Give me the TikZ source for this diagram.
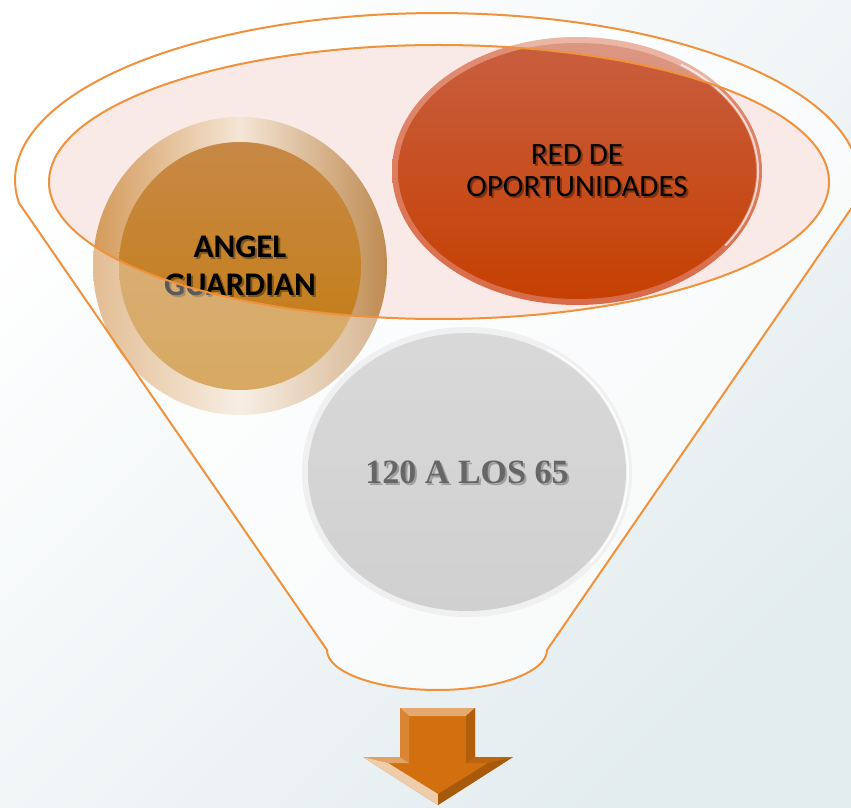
\documentclass[tikz,border=0pt]{standalone}
\usepackage{fontspec}
\newfontfamily\calibri{Carlito}
\newfontfamily\cambria{Liberation Serif}
\usetikzlibrary{shapes.geometric}
\definecolor{bgblue}{HTML}{E3ECEF}
\definecolor{rimorange}{HTML}{F0913C}
\definecolor{rimpink}{HTML}{F9EAE7}
\definecolor{angeltop}{HTML}{C88A4C}
\definecolor{angelbot}{HTML}{C27A06}
\definecolor{angelrim}{HTML}{D49A5A}
\definecolor{redtop}{HTML}{C85F41}
\definecolor{redbot}{HTML}{C63F00}
\definecolor{redrim}{HTML}{D86A48}
\definecolor{arroworange}{HTML}{D2700F}
\begin{document}
\begin{tikzpicture}[x=1pt,y=1pt,
		bubble/.style={ellipse,inner sep=0pt},
		angel/.style={bubble,minimum width=294pt,minimum height=298pt,
				left color=angelrim,right color=angelrim!90!black,middle color=angelrim!25!white,
				path picture={\shade[top color=angeltop,bottom color=angelbot]
						(path picture bounding box.center) ellipse[x radius=121pt,y radius=124pt];}},
		redbubble/.style={bubble,minimum width=370pt,minimum height=268pt,
				top color=redrim!75!white,bottom color=redrim,
				path picture={\shade[top color=redtop,bottom color=redbot]
						(path picture bounding box.center) ellipse[x radius=179pt,y radius=128pt];}},
		graybubble/.style={bubble,minimum width=330pt,minimum height=290pt,fill=gray!12,
				path picture={\shade[top color=gray!30,bottom color=gray!37]
						(path picture bounding box.center) ellipse[x radius=159pt,y radius=139pt];}},
		lbl/.style={align=center,inner sep=0pt},
		lblshadow/.style={lbl,text=black,opacity=0.35},
		angelfont/.style={font=\calibri\bfseries\fontsize{33}{38}\selectfont},
		redfont/.style={font=\calibri\fontsize{31}{32}\selectfont},
		grayfont/.style={font=\cambria\bfseries\fontsize{34}{40}\selectfont},
		rim/.style={draw=rimorange,line width=2pt}
	]
	\useasboundingbox (0,0) rectangle (851,807);
	\shade[top color=white,bottom color=bgblue,shading angle=45] (0,0) rectangle (851,807);
	\def\funnelpath{(855,604) arc[start angle=-7.9,end angle=187.9,x radius=422,y radius=167]
		-- (327,157) arc[start angle=180,end angle=360,x radius=110,y radius=40] -- cycle}
	% funnel body and top
	\fill[white,opacity=0.6] \funnelpath;
	\fill[rimpink] (439,625) ellipse[x radius=390,y radius=137];

	% bubbles
	\node[angel] (angel) at (240,541) {};
	\node[redbubble] (red) at (577,636) {};
	\draw[white,opacity=0.7,line width=2pt] (red.center) ++(-35:181 and 130) arc[start angle=-35,end angle=55,x radius=181,y radius=130];

	\node[lblshadow,angelfont] (angelshadow) at ([shift={(2,-2)}]angel.center) {ANGEL\\GUARDIAN};
	\node[lbl,angelfont] (angellabel) at (angel.center) {ANGEL\\GUARDIAN};
	\node[lblshadow,redfont] (redshadow) at ([shift={(2,-2)}]red.center) {RED DE\\OPORTUNIDADES};
	\node[lbl,redfont] (redlabel) at (red.center) {RED DE\\OPORTUNIDADES};

	% see-through funnel over the bubbles
	\fill[white,opacity=0.35,even odd rule] \funnelpath (439,625) ellipse[x radius=390,y radius=137];

	\node[graybubble] (gray) at (467,335) {};
	\draw[white,opacity=0.8,line width=2pt] (gray.center) ++(-40:161 and 141) arc[start angle=-40,end angle=60,x radius=161,y radius=141];
	\node[lbl,grayfont,text=black,opacity=0.25] (grayshadow) at ([shift={(2,-2)}]gray.center) {120 A LOS 65};
	\node[lbl,grayfont,text=black!60] (graylabel) at (gray.center) {120 A LOS 65};

	% outlines
	\draw[rim] \funnelpath;
	\draw[rim] (439,625) ellipse[x radius=390,y radius=137];

	% arrow
	\fill[arroworange] (400,99) -- (475,99) -- (475,50) -- (513,50) -- (438,2) -- (363,50) -- (400,50) -- cycle;
	\fill[arroworange!60!white] (400,99) -- (475,99) -- (466,91) -- (409,91) -- cycle;
	\fill[arroworange!85!white] (400,99) -- (409,91) -- (409,44) -- (400,50) -- cycle;
	\fill[arroworange!85!black] (475,99) -- (466,91) -- (466,44) -- (475,50) -- cycle;
	\fill[arroworange!65!white] (363,50) -- (400,50) -- (409,44) -- (388,44) -- cycle;
	\fill[arroworange!90!black] (475,50) -- (513,50) -- (488,44) -- (466,44) -- cycle;
	\fill[arroworange!35!white] (363,50) -- (388,44) -- (438,13) -- (438,2) -- cycle;
	\fill[arroworange!80!black] (513,50) -- (438,2) -- (438,13) -- (488,44) -- cycle;
\end{tikzpicture}
\end{document}
